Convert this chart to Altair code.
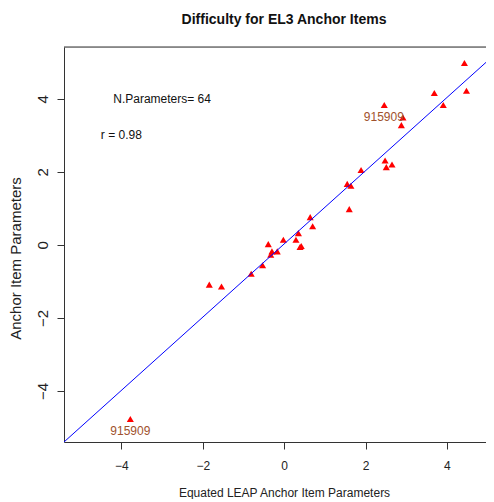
import altair as alt
import pandas as pd

# Points (x = equated LEAP, y = anchor item parameter)
pt_x = [4.43, 3.69, 4.48, 3.91, 2.46, 2.92, 2.88, 1.89, 2.48, 2.51, 2.65, 1.55, 1.64, 1.60,
        0.64, 0.70, 0.35, -0.02, 0.29, 0.42, 0.39, -1.84, -1.54, -0.81, -0.53, -0.39, -0.30,
        -0.33, -0.17, -3.78]
pt_y = [4.98, 4.16, 4.22, 3.83, 3.83, 3.49, 3.28, 2.05, 2.31, 2.13, 2.20, 1.67, 1.62, 0.98,
        0.76, 0.51, 0.32, 0.14, 0.14, -0.03, -0.06, -1.09, -1.14, -0.79, -0.56, 0.02, -0.18,
        -0.27, -0.18, -4.77]

# Reference line endpoints (data units)
line_x = [-5.41, 5.16]
line_y = [-5.40, 5.20]

# Annotations
ann_text = ["N.Parameters= 64", "r = 0.98"]
ann_x = [-3.0, -4.0]
ann_y = [4.0, 3.0]

lab_text = ["915909", "915909"]
lab_x = [2.45, -3.78]
lab_y = [3.49, -5.10]

x_ticks = [-4, -2, 0, 2, 4]
y_ticks = [-4, -2, 0, 2, 4]
x_dom = [-5.41, 4.96]
y_dom = [-5.40, 5.42]

FONT = "Liberation Sans"

pts = pd.DataFrame({"x": pt_x, "y": pt_y})
ln = pd.DataFrame({"x": line_x, "y": line_y})
ann = pd.DataFrame({"x": ann_x, "y": ann_y, "t": ann_text})
lab = pd.DataFrame({"x": lab_x, "y": lab_y, "t": lab_text})
frame = pd.DataFrame({"x": [x_dom[0]], "x2": [x_dom[1]], "y": [y_dom[1]]})

xs = alt.Scale(domain=x_dom, nice=False, zero=False)
ys = alt.Scale(domain=y_dom, nice=False, zero=False)

x_axis = alt.Axis(values=x_ticks, grid=False, tickSize=7, labelPadding=11,
                  labelFontSize=12, labelFont=FONT, labelColor="#222",
                  domainColor="#333", tickColor="#333",
                  title="Equated LEAP Anchor Item Parameters", titleFont=FONT,
                  titleFontSize=12, titleFontWeight="normal", titleColor="#222",
                  titleX=220, titleY=50, titleAlign="center", titleBaseline="middle")
y_axis = alt.Axis(values=y_ticks, grid=False, tickSize=7, labelPadding=7,
                  labelAngle=270, labelAlign="center", labelBaseline="bottom",
                  labelFontSize=15, labelFont=FONT, labelColor="#222",
                  domainColor="#333", tickColor="#333",
                  title="Anchor Item Parameters", titleFont=FONT,
                  titleFontSize=15, titleFontWeight="normal", titleColor="#222",
                  titleAngle=270, titleX=-49, titleY=211, titleAlign="center",
                  titleBaseline="middle")

points = alt.Chart(pts).mark_point(shape="triangle-up", filled=True, color="#FF0000",
                                   size=50, opacity=1).encode(
    x=alt.X("x:Q", scale=xs, axis=x_axis),
    y=alt.Y("y:Q", scale=ys, axis=y_axis),
)

line = alt.Chart(ln).mark_line(color="#0000FF", strokeWidth=1, clip=True).encode(
    x=alt.X("x:Q", scale=xs),
    y=alt.Y("y:Q", scale=ys),
)

top = alt.Chart(frame).mark_rule(color="#333", strokeWidth=1).encode(
    x=alt.X("x:Q", scale=xs), x2="x2:Q", y=alt.Y("y:Q", scale=ys))

annot = alt.Chart(ann).mark_text(font=FONT, fontSize=12, color="#111",
                                 align="center", baseline="middle").encode(
    x=alt.X("x:Q", scale=xs), y=alt.Y("y:Q", scale=ys), text="t:N")

labels = alt.Chart(lab).mark_text(font=FONT, fontSize=12, color="#A0522D",
                                  align="center", baseline="middle").encode(
    x=alt.X("x:Q", scale=xs), y=alt.Y("y:Q", scale=ys), text="t:N")

chart = alt.layer(points, line, top, annot, labels).properties(
    width=422, height=395,
    title=alt.TitleParams("Difficulty for EL3 Anchor Items", font=FONT, fontSize=14,
                          fontWeight="bold", color="#111", anchor="middle", dx=9,
                          offset=20),
    autosize=alt.AutoSizeParams(type="none"),
    padding={"left": 56, "top": 39, "right": 0, "bottom": 57},
).configure_view(stroke=None).configure(background="white")

chart.save("out.html", embed_options={"renderer": "svg", "actions": False})
